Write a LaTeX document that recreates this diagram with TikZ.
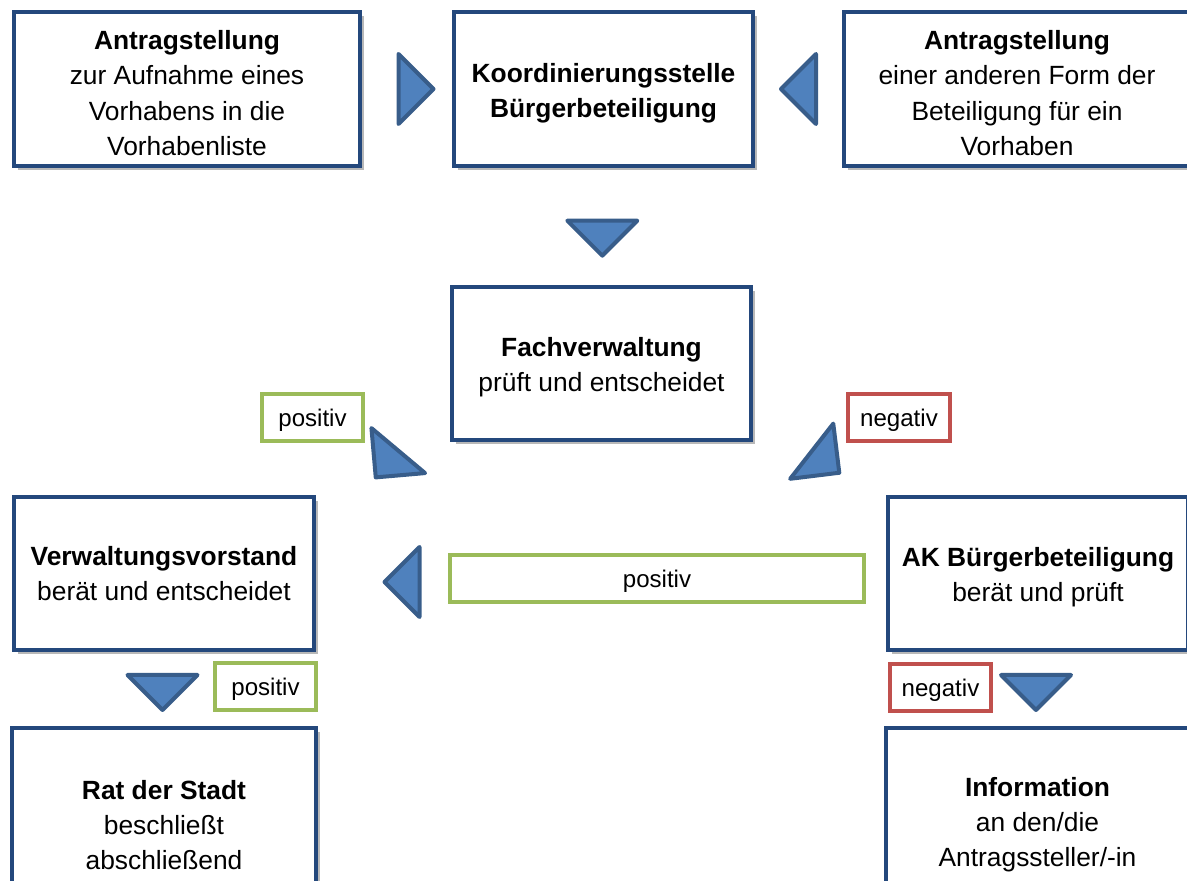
\documentclass[tikz,border=0pt]{standalone}
\usepackage{fontspec}
\setmainfont{Liberation Sans}
\usetikzlibrary{positioning, calc, shadows}
\definecolor{boxblue}{RGB}{36,72,124}
\definecolor{trifill}{RGB}{79,129,189}
\definecolor{triedge}{RGB}{56,93,138}
\definecolor{posgreen}{RGB}{155,187,89}
\definecolor{negred}{RGB}{192,80,77}
\newcommand{\boxstrut}{\rule{0pt}{15.5pt}}

\begin{document}
\begin{tikzpicture}[
    stepbox/.style={draw=boxblue, line width=0.08cm, fill=white, align=center, inner sep=2pt,
      font=\fontsize{15}{20}\selectfont,
      drop shadow={shadow xshift=0.07cm, shadow yshift=-0.09cm, fill=black, opacity=0.28}},
    verdict/.style={draw=#1, line width=0.08cm, fill=white, minimum height=0.94cm, inner sep=2pt,
      font=\fontsize{13.7}{16}\selectfont, text height=13.2pt, text depth=2.9pt,
      drop shadow={shadow xshift=0.03cm, shadow yshift=-0.05cm, fill=#1!60, opacity=0.3}},
    tri/.pic={\draw[fill=trifill, draw=triedge, line width=0.08cm, line join=round]
      (-0.35,0.7) -- (0.35,0) -- (-0.35,-0.7) -- cycle;}
  ]
  \useasboundingbox (0,0) rectangle (23.74,17.62);
  \clip (0,0) rectangle (23.74,17.62);

  % top row
  \node[stepbox, minimum width=6.92cm, minimum height=3.08cm] (antragA) at (3.74,15.84)
    {\boxstrut\textbf{Antragstellung}\\zur Aufnahme eines\\Vorhabens in die\\Vorhabenliste};
  \node[stepbox, minimum width=5.98cm, minimum height=3.08cm] (koord) at (12.07,15.84)
    {\boxstrut\textbf{Koordinierungsstelle}\\\textbf{Bürgerbeteiligung}};
  \node[stepbox, minimum width=6.92cm, minimum height=3.08cm] (antragB) at (20.34,15.84)
    {\boxstrut\textbf{Antragstellung}\\einer anderen Form der\\Beteiligung für ein\\Vorhaben};

  % middle
  \node[stepbox, minimum width=5.98cm, minimum height=3.06cm] (fach) at (12.03,10.35)
    {\boxstrut\textbf{Fachverwaltung}\\prüft und entscheidet};
  \node[stepbox, minimum width=6.0cm, minimum height=3.06cm] (vv) at (3.28,6.15)
    {\textbf{Verwaltungsvorstand}\\berät und entscheidet};
  \node[stepbox, minimum width=6.0cm, minimum height=3.06cm] (ak) at (20.76,6.15)
    {\boxstrut\textbf{AK Bürgerbeteiligung}\\berät und prüft};

  % bottom row
  \node[stepbox, minimum width=6.08cm, minimum height=3.88cm] (rat) at (3.28,1.12)
    {\textbf{Rat der Stadt}\\beschließt\\abschließend};
  \node[stepbox, minimum width=6.08cm, minimum height=3.88cm] (info) at (20.75,1.12)
    {\textbf{Information}\\an den/die\\Antragssteller/-in};

  % decisions
  \node[verdict=posgreen, minimum width=2.02cm] (posFach) at (6.25,9.27) {positiv};
  \node[verdict=negred, minimum width=2.04cm] (negFach) at (17.98,9.27) {negativ};
  \node[verdict=posgreen, minimum width=8.28cm] (posAK) at (13.14,6.05) {positiv};
  \node[verdict=posgreen, minimum width=2.02cm] (posVV) at (5.31,3.89) {positiv};
  \node[verdict=negred, minimum width=2.02cm] (negAK) at (18.81,3.87) {negativ};

  % arrows
  \pic at ($(antragA.east)!0.6!(koord.west)$) {tri};
  \pic[rotate=180] at ($(koord.east)!0.5!(antragB.west)$) {tri};
  \pic[rotate=-90] at ($(koord.south)!0.6!(fach.north)$) {tri};
  \pic[rotate=-130] at (7.74,8.34) {tri};
  \pic[rotate=-38] at (16.51,8.38) {tri};
  \pic[rotate=180] at (8.04,5.98) {tri};
  \pic[rotate=-90] at (3.25,3.77) {tri};
  \pic[rotate=-90] at (20.72,3.77) {tri};
\end{tikzpicture}
\end{document}
